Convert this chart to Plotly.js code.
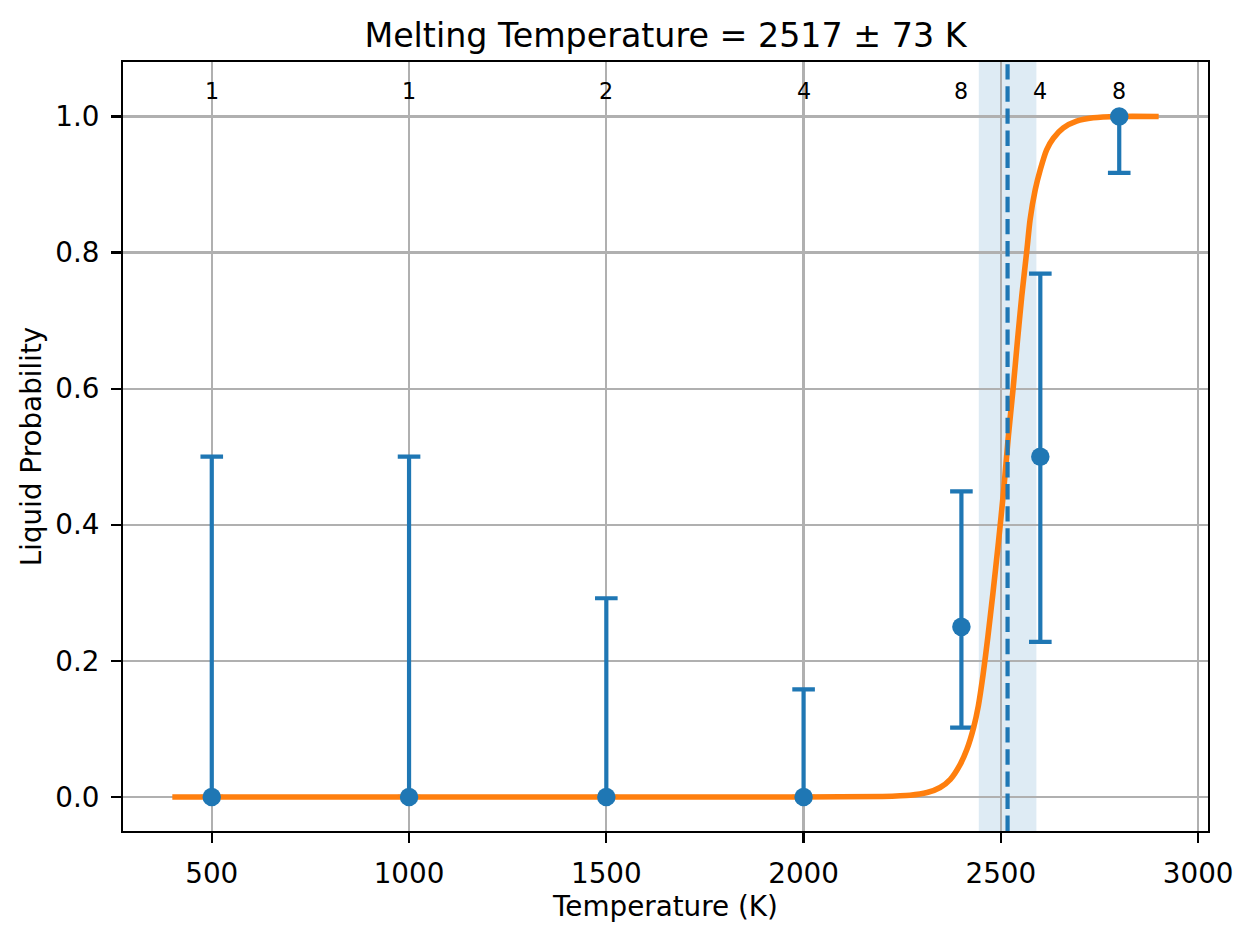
<!DOCTYPE html>
<html>
<head>
<meta charset="utf-8">
<script src="https://cdn.plot.ly/plotly-3.0.1.min.js"></script>
<style>html,body{margin:0;padding:0;background:#fff;}#chart{width:1253px;height:939px;}</style>
</head>
<body>
<div id="chart"></div>
<script>
// ---- data ----
const temps = [500, 1000, 1500, 2000, 2400, 2600, 2800];
const liquidProb = [0, 0, 0, 0, 0.25, 0.5, 1.0];
const upperBound = [0.5, 0.5, 0.292, 0.158, 0.449, 0.769, 1.0];
const lowerBound = [0, 0, 0, 0, 0.102, 0.228, 0.917];
const counts = [1, 1, 2, 4, 8, 4, 8];

const fitT = [400, 1000, 1500, 2000, 2200, 2270, 2313, 2346, 2372, 2397, 2414, 2431, 2443, 2455, 2467, 2480, 2494, 2507, 2519, 2531, 2542, 2553, 2566, 2574, 2587, 2600, 2616, 2633, 2658, 2692, 2734, 2800, 2900];
const fitP = [0, 0, 0, 0, 0.0008, 0.0025, 0.0065, 0.014, 0.026, 0.048, 0.070, 0.102, 0.134, 0.180, 0.235, 0.300, 0.375, 0.450, 0.530, 0.600, 0.670, 0.736, 0.804, 0.848, 0.892, 0.922, 0.951, 0.968, 0.983, 0.993, 0.998, 1.0, 1.0];

const meltT = 2517;
const meltErr = 73;
const xTicks = [500, 1000, 1500, 2000, 2500, 3000];
const yTicks = [0, 0.2, 0.4, 0.6, 0.8, 1.0];
const yTickText = ['0.0', '0.2', '0.4', '0.6', '0.8', '1.0'];

// ---- styling ----
const BLUE = '#1f77b4', ORANGE = '#ff7f0e';
const FONT = 'DejaVu Sans, Liberation Sans, sans-serif';

const errPlus = upperBound.map((u, i) => u - liquidProb[i]);
const errMinus = lowerBound.map((l, i) => liquidProb[i] - l);

const traces = [
  {
    x: temps, y: liquidProb, type: 'scatter', mode: 'markers',
    marker: {size: 18, color: BLUE, opacity: 0},
    error_y: {type: 'data', symmetric: false, array: errPlus, arrayminus: errMinus,
              color: BLUE, thickness: 4.2, width: 11.3},
    hoverinfo: 'skip', showlegend: false
  },
  {
    x: fitT, y: fitP, type: 'scatter', mode: 'lines',
    line: {color: ORANGE, width: 5.6, shape: 'spline', smoothing: 0.6},
    showlegend: false
  },
  {
    x: temps, y: liquidProb, type: 'scatter', mode: 'markers',
    marker: {size: 18.5, color: BLUE},
    showlegend: false
  }
];

const annotations = temps.map((t, i) => ({
  x: t, y: 1.038, xref: 'x', yref: 'y', text: String(counts[i]),
  showarrow: false, xanchor: 'center', yanchor: 'middle',
  font: {family: FONT, size: 22.2, color: '#000'}
}));

const axisCommon = {
  showgrid: true, gridcolor: '#b0b0b0', gridwidth: 2.2,
  showline: true, linecolor: '#000', linewidth: 2.2, mirror: true,
  ticks: 'outside', ticklen: 9.7, tickwidth: 2.2, tickcolor: '#000',
  tickfont: {family: FONT, size: 27.8, color: '#000'},
  zeroline: false
};

const layout = {
  width: 1253, height: 939,
  margin: {l: 123, r: 45, t: 62, b: 108, pad: 0},
  paper_bgcolor: '#fff', plot_bgcolor: '#fff',
  font: {family: FONT, color: '#000'},
  title: {
    text: 'Melting Temperature = ' + meltT + ' ± ' + meltErr + ' K',
    font: {family: FONT, size: 33.3, color: '#000'},
    x: 0.5, xref: 'paper', xanchor: 'center',
    y: 1 - 35 / 939, yref: 'container', yanchor: 'middle'
  },
  xaxis: Object.assign({}, axisCommon, {
    range: [275, 3025], tickvals: xTicks, ticktext: xTicks.map(String),
    ticklabelstandoff: 7,
    title: {text: 'Temperature (K)', font: {family: FONT, size: 27.8, color: '#000'}, standoff: 6}
  }),
  yaxis: Object.assign({}, axisCommon, {
    range: [-0.05, 1.08], tickvals: yTicks, ticktext: yTickText,
    ticklabelstandoff: 6,
    title: {text: 'Liquid Probability', font: {family: FONT, size: 27.8, color: '#000'}, standoff: 6}
  }),
  shapes: [
    {type: 'rect', xref: 'x', yref: 'paper', x0: meltT - meltErr, x1: meltT + meltErr, y0: 0, y1: 1,
     fillcolor: BLUE, opacity: 0.15, line: {width: 0}, layer: 'below'},
    {type: 'line', xref: 'x', yref: 'paper', x0: meltT, x1: meltT, y0: 0, y1: 1,
     line: {color: BLUE, width: 4.2, dash: '15.4px,6.7px'}, layer: 'above'}
  ],
  annotations: annotations,
  showlegend: false
};

Plotly.newPlot('chart', traces, layout, {displayModeBar: false, staticPlot: true});
</script>
</body>
</html>
